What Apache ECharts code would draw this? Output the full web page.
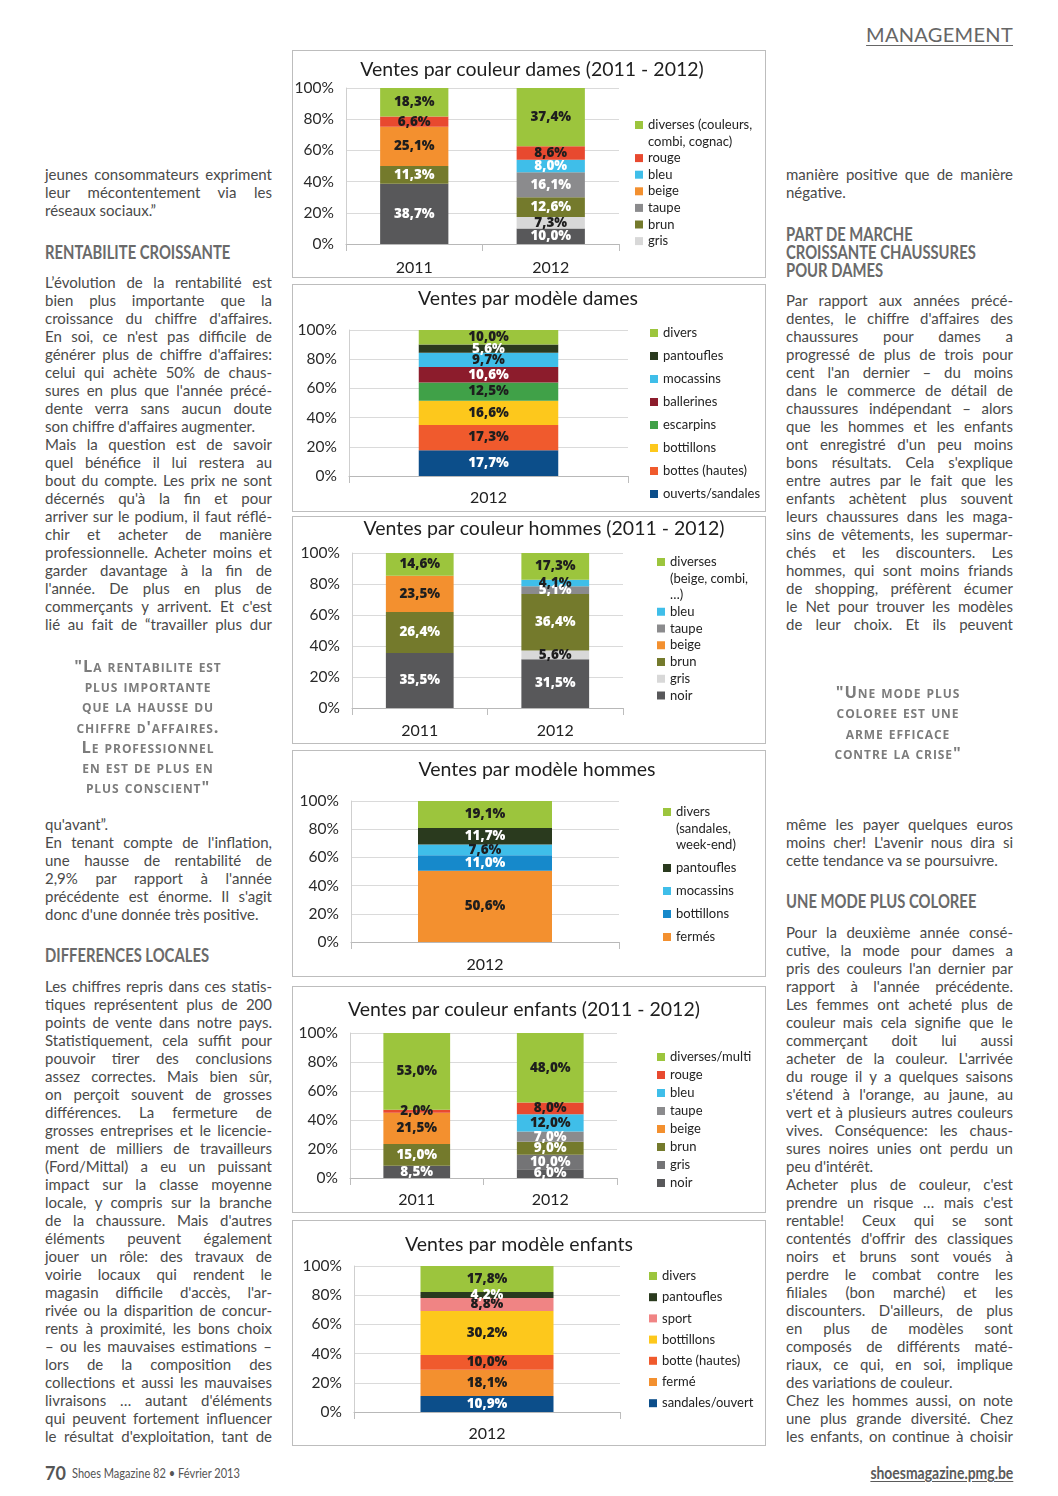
<!DOCTYPE html>
<html lang="fr"><head><meta charset="utf-8"><title>Shoes Magazine 82 – Management</title>
<script src="https://cdn.jsdelivr.net/npm/echarts@6/dist/echarts.min.js"></script>
<style>
html,body{margin:0;padding:0;background:#fff}
body{position:relative;width:1058px;height:1496px;overflow:hidden;font-family:Lato,"Open Sans",sans-serif;color:#444}
.box{position:absolute;box-sizing:border-box;border:1px solid #bdbdbd;background:#fff}
.box > div{position:absolute;left:0;top:0;right:0;bottom:0}
.ln{position:absolute;white-space:nowrap;font-size:15px;line-height:18px;height:18px;color:#4a4a4a;text-align:left}
.ln.j{text-align:justify;text-align-last:justify}
.hd{position:absolute;white-space:nowrap;font-weight:700;font-size:18.5px;line-height:18px;height:18px;color:#6a6a6a}
.hd span{display:inline-block;transform-origin:0 50%;transform:scaleX(0.8)}
.q{position:absolute;white-space:nowrap;font-family:"Open Sans",Lato,sans-serif;font-weight:700;font-size:16.5px;font-variant:small-caps;letter-spacing:0.9px;color:#7c7c7c;text-align:center;line-height:20px;height:20px;width:300px}
.top{position:absolute;white-space:nowrap}
</style></head>
<body>
<div class="box" id="b1"><div id="c1"></div></div>
<div class="box" id="b2"><div id="c2"></div></div>
<div class="box" id="b3"><div id="c3"></div></div>
<div class="box" id="b4"><div id="c4"></div></div>
<div class="box" id="b5"><div id="c5"></div></div>
<div class="box" id="b6"><div id="c6"></div></div>
<script>
// ================= DATA =================
// Chart 1 — Ventes par couleur dames (2011 - 2012)
const dcCategories = ['2011', '2012'];
const dcSeries = ['noir', 'gris', 'brun', 'taupe', 'beige', 'bleu', 'rouge', 'diverses (couleurs, combi, cognac)'];
const dc2011 = [38.7, 0, 11.3, 0, 25.1, 0, 6.6, 18.3];
const dc2012 = [10.0, 7.3, 12.6, 16.1, 0, 8.0, 8.6, 37.4];
const dcLegend = ['diverses (couleurs, combi, cognac)', 'rouge', 'bleu', 'beige', 'taupe', 'brun', 'gris'];

// Chart 2 — Ventes par modèle dames
const dmCategories = ['2012'];
const dmSeries = ['ouverts/sandales', 'bottes (hautes)', 'bottillons', 'escarpins', 'ballerines', 'mocassins', 'pantoufles', 'divers'];
const dm2012 = [17.7, 17.3, 16.6, 12.5, 10.6, 9.7, 5.6, 10.0];

// Chart 3 — Ventes par couleur hommes (2011 - 2012)
const hcCategories = ['2011', '2012'];
const hcSeries = ['noir', 'gris', 'brun', 'beige', 'taupe', 'bleu', 'diverses (beige, combi, …)'];
const hc2011 = [35.5, 0, 26.4, 23.5, 0, 0, 14.6];
const hc2012 = [31.5, 5.6, 36.4, 0, 5.1, 4.1, 17.3];

// Chart 4 — Ventes par modèle hommes
const hmCategories = ['2012'];
const hmSeries = ['fermés', 'bottillons', 'mocassins', 'pantoufles', 'divers (sandales, week-end)'];
const hm2012 = [50.6, 11.0, 7.6, 11.7, 19.1];

// Chart 5 — Ventes par couleur enfants (2011 - 2012)
const ecCategories = ['2011', '2012'];
const ecSeries = ['noir', 'gris', 'brun', 'beige', 'taupe', 'bleu', 'rouge', 'diverses/multi'];
const ec2011 = [8.5, 0, 15.0, 21.5, 0, 0, 2.0, 53.0];
const ec2012 = [6.0, 10.0, 9.0, 0, 7.0, 12.0, 8.0, 48.0];

// Chart 6 — Ventes par modèle enfants
const emCategories = ['2012'];
const emSeries = ['sandales/ouvert', 'fermé', 'botte (hautes)', 'bottillons', 'sport', 'pantoufles', 'divers'];
const em2012 = [10.9, 18.1, 10.0, 30.2, 8.8, 4.2, 17.8];

// Axis ticks (percent)
const yTickStep = 20;
const yMin = 0, yMax = 100;

// ================= STYLES =================
const COL = {
  green:'#9cc53d', red:'#e8492f', sky:'#3fbee9', orange:'#f3902f', taupe:'#8b8b8d', olive:'#747a2c',
  lightgray:'#d8d8d8', dark:'#58585a', darkgreen:'#2a3a1e', maroon:'#8c1c2c', midgreen:'#40a148',
  yellow:'#fdc81c', redorange:'#f05a2d', navy:'#0c4e8a', blue:'#1689cb', pink:'#f08484', gray2:'#747476'
};
const W = '#ffffff', D = '#1e1e1e';

const charts = [
  { id:'c1', box:[292,50,474,228], title:'Ventes par couleur dames (2011 - 2012)', tc:[239,19],
    cats:dcCategories, names:dcSeries, values:[dc2011, dc2012], legend:dcLegend,
    colors:[COL.dark,COL.lightgray,COL.olive,COL.taupe,COL.orange,COL.sky,COL.red,COL.green],
    lcolors:[W,D,W,W,D,W,D,D],
    grid:[53,37,273,156], catMargin:16, leg:[342,49.25,0.1] },
  { id:'c2', box:[292,284,474,228], title:'Ventes par modèle dames', tc:[235,14],
    cats:dmCategories, names:dmSeries, values:[dm2012], legend:dmSeries.slice().reverse(),
    colors:[COL.navy,COL.redorange,COL.yellow,COL.midgreen,COL.maroon,COL.sky,COL.darkgreen,COL.green],
    lcolors:[W,D,D,D,W,D,W,D],
    grid:[56,45,279,146], catMargin:14, leg:[357,39.75,6.5] },
  { id:'c3', box:[292,516,474,228], title:'Ventes par couleur hommes (2011 - 2012)', tc:[251,12],
    cats:hcCategories, names:hcSeries, values:[hc2011, hc2012], legend:hcSeries.slice().reverse(),
    colors:[COL.dark,COL.lightgray,COL.olive,COL.orange,COL.taupe,COL.sky,COL.green],
    lcolors:[W,D,W,D,W,D,D],
    grid:[59,36,271,155], catMargin:15, leg:[364,3.75,0.25] },
  { id:'c4', box:[292,750,474,227], title:'Ventes par modèle hommes', tc:[244,19],
    cats:hmCategories, names:hmSeries, values:[hm2012], legend:hmSeries.slice().reverse(),
    colors:[COL.orange,COL.blue,COL.sky,COL.darkgreen,COL.green],
    lcolors:[D,W,D,W,D],
    grid:[58,50,268,141], catMargin:15, leg:[370,19.75,6.5] },
  { id:'c5', box:[292,986,474,227], title:'Ventes par couleur enfants (2011 - 2012)', tc:[231,23],
    cats:ecCategories, names:ecSeries, values:[ec2011, ec2012], legend:ecSeries.slice().reverse(),
    colors:[COL.dark,COL.gray2,COL.olive,COL.orange,COL.taupe,COL.sky,COL.red,COL.green],
    lcolors:[W,W,W,D,W,D,D,D],
    grid:[57,46,267,145], catMargin:14, leg:[364,61.75,1.5] },
  { id:'c6', box:[292,1220,474,226], title:'Ventes par modèle enfants', tc:[226,24],
    cats:emCategories, names:emSeries, values:[em2012], legend:emSeries.slice().reverse(),
    colors:[COL.navy,COL.orange,COL.redorange,COL.yellow,COL.pink,COL.darkgreen,COL.green],
    lcolors:[W,D,D,D,D,W,D],
    grid:[61,45,266,146], catMargin:14, leg:[356,46.75,4.7] }
];

const legendWrap = {
  'diverses (couleurs, combi, cognac)': ' \ndiverses (couleurs,\ncombi, cognac)',
  'diverses (beige, combi, …)': ' \n \ndiverses\n(beige, combi,\n…)',
  'divers (sandales, week-end)': ' \n \ndivers\n(sandales,\nweek-end)'
};
const FONT = 'Lato, "Open Sans", sans-serif';
const LABEL_FONT = '"Open Sans", Lato, sans-serif';
const fmtPct = v => v.toFixed(1).replace('.', ',') + '%';

charts.forEach(cfg => {
  const b = document.getElementById('b' + cfg.id.slice(1));
  b.style.left = cfg.box[0] + 'px'; b.style.top = cfg.box[1] + 'px';
  b.style.width = cfg.box[2] + 'px'; b.style.height = cfg.box[3] + 'px';
  const chart = echarts.init(document.getElementById(cfg.id), null, {renderer:'canvas'});
  const series = cfg.names.map((name, i) => ({
    name, type:'bar', stack:'total', barWidth:'50%',
    itemStyle:{color:cfg.colors[i]},
    label:{show:true, position:'inside', color:cfg.lcolors[i], fontFamily:LABEL_FONT, fontWeight:800,
      fontSize:13.5, textBorderWidth:0, textShadowBlur:0,
      formatter: p => p.value > 0 ? fmtPct(p.value) : ''},
    emphasis:{disabled:true},
    data: cfg.values.map(arr => arr[i])
  }));
  chart.setOption({
    animation:false,
    textStyle:{fontFamily:FONT},
    title:{text:cfg.title, left:cfg.tc[0], top:cfg.tc[1], textAlign:'center', textVerticalAlign:'middle', padding:0,
      textStyle:{fontFamily:FONT, fontWeight:'normal', fontSize:19.5, color:'#1e1e1e'}},
    legend:{orient:'vertical', left:cfg.leg[0], top:cfg.leg[1], itemGap:cfg.leg[2], padding:0,
      icon:'rect', itemWidth:8, itemHeight:8, selectedMode:false, data:cfg.legend,
      formatter: n => legendWrap[n] || n,
      textStyle:{fontFamily:FONT, fontSize:13, lineHeight:16.5, color:'#222'}},
    grid:{left:cfg.grid[0], top:cfg.grid[1], width:cfg.grid[2], height:cfg.grid[3], containLabel:false, outerBoundsMode:'none'},
    xAxis:{type:'category', data:cfg.cats,
      axisLine:{lineStyle:{color:'#b8b8b8', width:1}},
      axisTick:{show:true, length:7, lineStyle:{color:'#bdbdbd'}},
      axisLabel:{fontFamily:FONT, fontSize:16, color:'#222', margin:cfg.catMargin}},
    yAxis:{type:'value', min:yMin, max:yMax, interval:yTickStep,
      axisLine:{show:true, lineStyle:{color:'#cfcfcf'}}, axisTick:{show:false},
      splitLine:{lineStyle:{color:'#dadada'}},
      axisLabel:{fontFamily:FONT, fontSize:15.5, color:'#2a2a2a', margin:12, formatter:'{value}%'}},
    series
  });
});

// ================= TEXT COLUMNS =================
const leftX = 45, rightX = 786, colW = 227, LH = 18;
const leftParas = [
  {y:174, cont:false, lines:['jeunes consommateurs expriment','leur mécontentement via les','réseaux sociaux.”']},
  {y:282, cont:false, lines:['L’évolution de la rentabilité est','bien plus importante que la','croissance du chiffre d\'affaires.','En soi, ce n\'est pas difficile de','générer plus de chiffre d\'affaires:','celui qui achète 50% de chaus-','sures en plus que l\'année précé-','dente verra sans aucun doute','son chiffre d\'affaires augmenter.']},
  {y:444, cont:true, lines:['Mais la question est de savoir','quel bénéfice il lui restera au','bout du compte. Les prix ne sont','décernés qu\'à la fin et pour','arriver sur le podium, il faut réflé-','chir et acheter de manière','professionnelle. Acheter moins et','garder davantage à la fin de','l\'année. De plus en plus de','commerçants y arrivent. Et c\'est','lié au fait de “travailler plus dur']},
  {y:824, cont:false, lines:['qu\'avant”.']},
  {y:842, cont:false, lines:['En tenant compte de l\'inflation,','une hausse de rentabilité de','2,9% par rapport à l\'année','précédente est énorme. Il s\'agit','donc d\'une donnée très positive.']},
  {y:986, cont:true, lines:['Les chiffres repris dans ces statis-','tiques représentent plus de 200','points de vente dans notre pays.','Statistiquement, cela suffit pour','pouvoir tirer des conclusions','assez correctes. Mais bien sûr,','on perçoit souvent de grosses','différences. La fermeture de','grosses entreprises et le licencie-','ment de milliers de travailleurs','(Ford/Mittal) a eu un puissant','impact sur la classe moyenne','locale, y compris sur la branche','de la chaussure. Mais d\'autres','éléments peuvent également','jouer un rôle: des travaux de','voirie locaux qui rendent le','magasin difficile d\'accès, l\'ar-','rivée ou la disparition de concur-','rents à proximité, les bons choix','– ou les mauvaises estimations –','lors de la composition des','collections et aussi les mauvaises','livraisons … autant d\'éléments','qui peuvent fortement influencer','le résultat d\'exploitation, tant de']}
];
const rightParas = [
  {y:174, cont:false, lines:['manière positive que de manière','négative.']},
  {y:300, cont:true, lines:['Par rapport aux années précé-','dentes, le chiffre d\'affaires des','chaussures pour dames a','progressé de plus de trois pour','cent l\'an dernier – du moins','dans le commerce de détail de','chaussures indépendant – alors','que les hommes et les enfants','ont enregistré d\'un peu moins','bons résultats. Cela s\'explique','entre autres par le fait que les','enfants achètent plus souvent','leurs chaussures dans les maga-','sins de vêtements, les supermar-','chés et les discounters. Les','hommes, qui sont moins friands','de shopping, préfèrent écumer','le Net pour trouver les modèles','de leur choix. Et ils peuvent']},
  {y:824, cont:false, lines:['même les payer quelques euros','moins cher! L\'avenir nous dira si','cette tendance va se poursuivre.']},
  {y:932, cont:false, lines:['Pour la deuxième année consé-','cutive, la mode pour dames a','pris des couleurs l\'an dernier par','rapport à l\'année précédente.','Les femmes ont acheté plus de','couleur mais cela signifie que le','commerçant doit lui aussi','acheter de la couleur. L\'arrivée','du rouge il y a quelques saisons','s\'étend à l\'orange, au jaune, au','vert et à plusieurs autres couleurs','vives. Conséquence: les chaus-','sures noires unies ont perdu un','peu d\'intérêt.']},
  {y:1184, cont:false, lines:['Acheter plus de couleur, c\'est','prendre un risque … mais c\'est','rentable! Ceux qui se sont','contentés d\'offrir des classiques','noirs et bruns sont voués à','perdre le combat contre les','filiales (bon marché) et les','discounters. D\'ailleurs, de plus','en plus de modèles sont','composés de différents maté-','riaux, ce qui, en soi, implique','des variations de couleur.']},
  {y:1400, cont:true, lines:['Chez les hommes aussi, on note','une plus grande diversité. Chez','les enfants, on continue à choisir']}
];
const headings = [
  {x:leftX, y:252, t:'RENTABILITE CROISSANTE'},
  {x:leftX, y:955, t:'DIFFERENCES LOCALES'},
  {x:rightX, y:234, t:'PART DE MARCHE'},
  {x:rightX, y:252, t:'CROISSANTE CHAUSSURES'},
  {x:rightX, y:270, t:'POUR DAMES'},
  {x:rightX, y:901, t:'UNE MODE PLUS COLOREE'}
];
const quotes = [
  {cx:148, y:666, step:20.2, lines:['"La rentabilite est','plus importante','que la hausse du','chiffre d\'affaires.','Le professionnel','en est de plus en','plus conscient"']},
  {cx:898, y:692, step:20.4, lines:['"Une mode plus','coloree est une','arme efficace','contre la crise"']}
];

function addLine(x, yc, text, justify) {
  const d = document.createElement('div');
  d.className = 'ln' + (justify ? ' j' : '');
  d.style.left = x + 'px'; d.style.top = (yc - 9) + 'px'; d.style.width = colW + 'px';
  const s = document.createElement('span'); s.textContent = text; d.appendChild(s);
  document.body.appendChild(d);
  const w = s.getBoundingClientRect().width;
  if (w > colW) { s.style.display = 'inline-block'; s.style.transformOrigin = '0 50%'; s.style.transform = 'scaleX(' + (colW / w) + ')'; }
}
function addParas(x, paras) {
  paras.forEach(p => p.lines.forEach((t, i) => {
    const last = i === p.lines.length - 1;
    addLine(x, p.y + i * LH, t, !last || p.cont);
  }));
}
addParas(leftX, leftParas);
addParas(rightX, rightParas);
headings.forEach(h => {
  const d = document.createElement('div'); d.className = 'hd';
  d.style.left = h.x + 'px'; d.style.top = (h.y - 9) + 'px';
  const s = document.createElement('span'); s.textContent = h.t; d.appendChild(s);
  document.body.appendChild(d);
});
quotes.forEach(q => q.lines.forEach((t, i) => {
  const d = document.createElement('div'); d.className = 'q';
  d.style.left = (q.cx - 150) + 'px'; d.style.top = (q.y + i * q.step - 10) + 'px';
  d.textContent = t; document.body.appendChild(d);
}));

// header & footer
function addTop(html, css) { const d = document.createElement('div'); d.className = 'top'; d.innerHTML = html; Object.assign(d.style, css); document.body.appendChild(d); return d; }
addTop('MANAGEMENT', {right:'45px', top:'22px', fontSize:'20px', color:'#666', textDecoration:'underline', textDecorationThickness:'1px', textUnderlineOffset:'3px', letterSpacing:'0.3px'});
addTop('70', {left:'45px', top:'1462px', fontSize:'18px', fontWeight:'700', color:'#555'});
addTop('<span style="display:inline-block;transform:scaleX(0.85);transform-origin:0 50%">Shoes Magazine 82 • Février 2013</span>', {left:'72px', top:'1465px', fontSize:'13px', color:'#555'});
addTop('<span style="display:inline-block;transform:scaleX(0.82);transform-origin:100% 50%;text-decoration:underline;text-underline-offset:2px">shoesmagazine.pmg.be</span>', {right:'45px', top:'1462px', fontSize:'17px', fontWeight:'700', color:'#5a5a5a'});
</script>
</body></html>
